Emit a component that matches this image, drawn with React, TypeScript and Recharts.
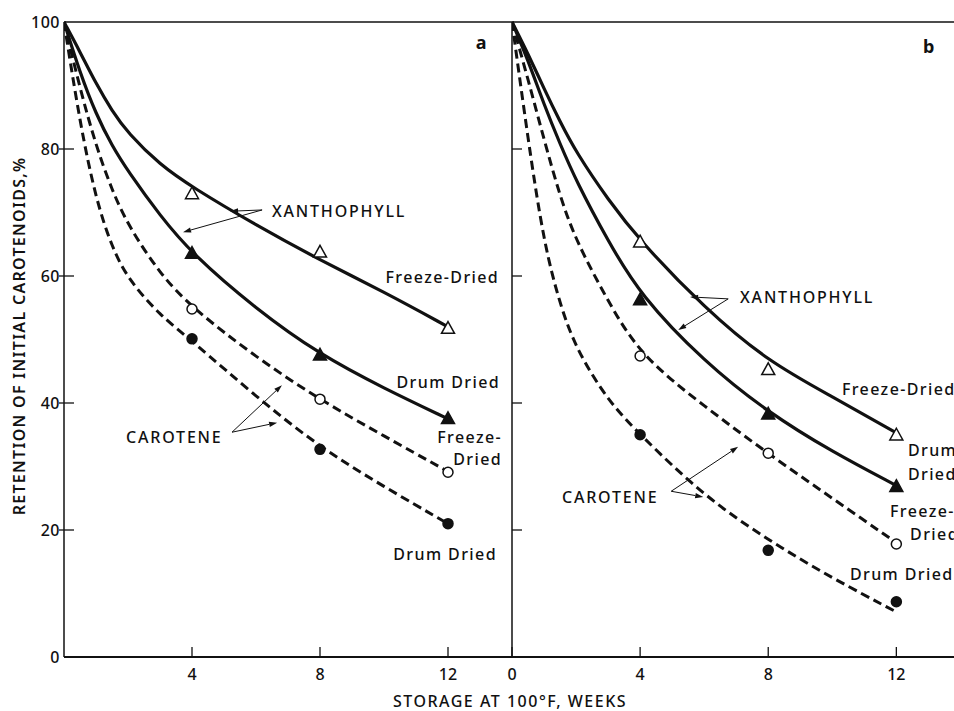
import { LineChart, Line, XAxis, YAxis, ReferenceLine, ReferenceDot } from 'recharts'

// weeks at 100°F
const curveWeeks = [0, 0.5, 1, 1.5, 2, 3, 4, 6, 8, 10, 12]
const pointWeeks = [4, 8, 12]

// panel a – fitted curves (% retention)
const xanFreezeCurveA = [100, 95.3, 90.3, 86, 82.5, 77.5, 74, 68, 62.5, 57.5, 52]
const xanDrumCurveA = [100, 92, 85.5, 80.5, 76.5, 69.5, 63.5, 54.8, 47.6, 42.3, 37.5]
const carFreezeCurveA = [100, 89.5, 80.5, 73.5, 68, 60.3, 55, 47.2, 40.5, 34.8, 29.2]
const carDrumCurveA = [100, 84, 72, 64.5, 59.5, 53.8, 49.8, 41, 33, 26.8, 21]
// panel a – measured points
const xanFreezePtsA = [73, 63.8, 51.8]
const xanDrumPtsA = [63.6, 47.6, 37.6]
const carFreezePtsA = [54.8, 40.6, 29.1]
const carDrumPtsA = [50.1, 32.7, 21]

// panel b – fitted curves
const xanFreezeCurveB = [100, 95, 89.5, 84.3, 79.5, 72, 65.5, 55, 46.5, 41, 35.3]
const xanDrumCurveB = [100, 94, 87, 80.8, 75, 65.5, 57, 46.5, 38.5, 32.3, 27]
const carFreezeCurveB = [100, 91, 81.5, 72.5, 65.5, 56, 47.5, 39.5, 32, 25, 18]
const carDrumCurveB = [100, 81.5, 65, 55.5, 48.5, 40.3, 35, 25.3, 18.4, 12.4, 7.1]
// panel b – measured points
const xanFreezePtsB = [65.4, 45.3, 35]
const xanDrumPtsB = [56.3, 38.3, 26.9]
const carFreezePtsB = [47.4, 32.1, 17.8]
const carDrumPtsB = [35, 16.8, 8.7]

const yTicks = [0, 20, 40, 60, 80, 100]
const xTicksA = [4, 8, 12]
const xTicksB = [0, 4, 8, 12]

// [text, week, value, anchor]
const notesA: [string, number, number, string][] = [
  ['XANTHOPHYLL', 6.5, 70.2, 'start'],
  ['CAROTENE', 1.94, 34.6, 'start'],
  ['Freeze-Dried', 13.6, 59.8, 'end'],
  ['Drum Dried', 13.63, 43.3, 'end'],
  ['Freeze-', 13.69, 34.6, 'end'],
  ['Dried', 13.69, 31.2, 'end'],
  ['Drum Dried', 13.53, 16.2, 'end'],
  ['a', 13.06, 96.7, 'middle'],
]
const notesB: [string, number, number, string][] = [
  ['XANTHOPHYLL', 7.12, 56.7, 'start'],
  ['CAROTENE', 1.56, 25.2, 'start'],
  ['Freeze-Dried', 10.3, 42.2, 'start'],
  ['Drum', 12.36, 32.5, 'start'],
  ['Dried', 12.36, 28.8, 'start'],
  ['Freeze-', 11.8, 23, 'start'],
  ['Dried', 12.43, 19.4, 'start'],
  ['Drum Dried', 10.55, 13.1, 'start'],
  ['b', 13.03, 96.2, 'middle'],
]

// arrows: [fromWeek, fromValue, toWeek, toValue]
const arrowsA = [
  [6.19, 70.4, 5.19, 70.2],
  [6.19, 70.4, 3.72, 66.9],
  [5.25, 35.4, 6.81, 42.8],
  [5.25, 35.4, 6.66, 36.9],
]
const arrowsB = [
  [6.75, 56.4, 5.56, 56.7],
  [6.75, 56.4, 5.19, 51.5],
  [4.97, 26.1, 7.06, 33.1],
  [4.97, 26.1, 5.97, 25.2],
]

const FONT = "'Noto Sans', 'DejaVu Sans', sans-serif"
const INK = '#111'
const W = 954
const H = 711

const toPts = (weeks: number[], vals: number[]) => weeks.map((w, i) => ({ week: w, value: vals[i] }))

const triangle = (filled: boolean) => (p: any) => {
  const { cx, cy } = p
  if (cx == null || cy == null) return <g />
  const s = 6.5
  return (
    <polygon
      points={`${cx},${cy - s} ${cx + s},${cy + s * 0.8} ${cx - s},${cy + s * 0.8}`}
      fill={filled ? INK : '#fff'}
      stroke={INK}
      strokeWidth={1.5}
    />
  )
}
const circle = (filled: boolean) => (p: any) => {
  const { cx, cy } = p
  if (cx == null || cy == null) return <g />
  return <circle cx={cx} cy={cy} r={5} fill={filled ? INK : '#fff'} stroke={INK} strokeWidth={1.5} />
}

const arrowShape = (p: any) => {
  const { x1, y1, x2, y2 } = p
  const a = Math.atan2(y2 - y1, x2 - x1)
  const L = 8
  const Wd = 2.6
  const bx = x2 - L * Math.cos(a)
  const by = y2 - L * Math.sin(a)
  const nx = -Math.sin(a) * Wd
  const ny = Math.cos(a) * Wd
  return (
    <g>
      <line x1={x1} y1={y1} x2={bx} y2={by} stroke={INK} strokeWidth={1} />
      <polygon points={`${x2},${y2} ${bx + nx},${by + ny} ${bx - nx},${by - ny}`} fill={INK} />
    </g>
  )
}

const textStyle = { fontFamily: FONT, fontSize: 16, fontWeight: 500, fill: INK }

const makeXTick = (showLabel: boolean) => (p: any) => {
  const { x, y, payload } = p
  return (
    <g>
      <line x1={x} x2={x} y1={y} y2={y - 10} stroke={INK} strokeWidth={1.3} />
      {showLabel && (
        <text x={x} y={y + 23} textAnchor="middle" {...textStyle}>
          {payload.value}
        </text>
      )}
    </g>
  )
}

const makeYTick = (showLabel: boolean) => (p: any) => {
  const { x, y, payload } = p
  if (payload.value === 0 && !showLabel) return <g />
  return (
    <g>
      {payload.value !== 0 && payload.value !== 100 && (
        <line x1={showLabel ? x - 5 : x} x2={x + 10} y1={y} y2={y} stroke={INK} strokeWidth={1.3} />
      )}
      {showLabel && (
        <text x={x - 4} y={y} dy="0.36em" textAnchor="end" letterSpacing={0.5} {...textStyle}>
          {payload.value}
        </text>
      )}
    </g>
  )
}

const renderNotes = (notes: [string, number, number, string][], prefix: string) =>
  notes.map(([text, week, value, anchor], i) => (
    <ReferenceDot
      key={`${prefix}-n${i}`}
      x={week}
      y={value}
      r={0}
      fill="none"
      stroke="none"
      ifOverflow="visible"
      label={(lp: any) => {
        const vb = lp.viewBox || {}
        const cx = (vb.x ?? 0) + (vb.width ?? 0) / 2
        const cy = (vb.y ?? 0) + (vb.height ?? 0) / 2
        const isLetter = text.length === 1
        return (
          <text
            x={cx}
            y={cy}
            dy="0.36em"
            textAnchor={anchor as any}
            letterSpacing={text === text.toUpperCase() && !isLetter ? 1.8 : 1.4}
            {...textStyle}
            fontSize={isLetter ? 18 : 16}
            fontWeight={isLetter ? 700 : 500}
          >
            {text}
          </text>
        )
      }}
    />
  ))

const renderArrows = (arrows: number[][], prefix: string) =>
  arrows.map(([fx, fy, tx, ty], i) => (
    <ReferenceLine
      key={`${prefix}-a${i}`}
      segment={[
        { x: fx, y: fy },
        { x: tx, y: ty },
      ]}
      ifOverflow="visible"
      shape={arrowShape}
    />
  ))

type Series = { curve: number[]; pts: number[]; dashed: boolean; marker: (p: any) => any }

const renderSeries = (series: Series[], prefix: string) =>
  series.flatMap((s, i) => [
    <Line
      key={`${prefix}-c${i}`}
      data={toPts(curveWeeks, s.curve)}
      dataKey="value"
      type="basis"
      stroke={INK}
      strokeWidth={s.dashed ? 3 : 3.2}
      strokeDasharray={s.dashed ? '9 5' : undefined}
      dot={false}
      activeDot={false}
      isAnimationActive={false}
    />,
    <Line
      key={`${prefix}-p${i}`}
      data={toPts(pointWeeks, s.pts)}
      dataKey="value"
      stroke="none"
      dot={s.marker}
      activeDot={false}
      isAnimationActive={false}
    />,
  ])

const seriesA: Series[] = [
  { curve: xanFreezeCurveA, pts: xanFreezePtsA, dashed: false, marker: triangle(false) },
  { curve: xanDrumCurveA, pts: xanDrumPtsA, dashed: false, marker: triangle(true) },
  { curve: carFreezeCurveA, pts: carFreezePtsA, dashed: true, marker: circle(false) },
  { curve: carDrumCurveA, pts: carDrumPtsA, dashed: true, marker: circle(true) },
]
const seriesB: Series[] = [
  { curve: xanFreezeCurveB, pts: xanFreezePtsB, dashed: false, marker: triangle(false) },
  { curve: xanDrumCurveB, pts: xanDrumPtsB, dashed: false, marker: triangle(true) },
  { curve: carFreezeCurveB, pts: carFreezePtsB, dashed: true, marker: circle(false) },
  { curve: carDrumCurveB, pts: carDrumPtsB, dashed: true, marker: circle(true) },
]

const layer: React.CSSProperties = { position: 'absolute', left: 0, top: 0 }

export default function App() {
  return (
    <div style={{ position: 'absolute', left: 0, top: 0, width: W, height: H, overflow: 'hidden', background: '#fff' }}>
      <div style={layer}>
        <LineChart width={W} height={H} margin={{ top: 22, right: W - 512, bottom: 24, left: 0 }}>
          <XAxis
            type="number"
            dataKey="week"
            domain={[0, 14]}
            ticks={xTicksA}
            allowDataOverflow
            height={30}
            tickSize={0}
            tickMargin={0}
            tick={makeXTick(true)}
            axisLine={{ stroke: INK, strokeWidth: 2 }}
            label={() => (
              <text x={510} y={701} dy="0.36em" textAnchor="middle" letterSpacing={1.5} {...textStyle}>
                STORAGE AT 100°F, WEEKS
              </text>
            )}
          />
          <YAxis
            type="number"
            domain={[0, 100]}
            ticks={yTicks}
            width={64}
            tickSize={0}
            tickMargin={0}
            tick={makeYTick(true)}
            axisLine={{ stroke: INK, strokeWidth: 1.5 }}
            label={() => (
              <text
                transform="translate(19,336) rotate(-90)"
                dominantBaseline="central"
                textAnchor="middle"
                letterSpacing={1.3}
                {...textStyle}
                fontWeight={600}
              >
                RETENTION OF INITIAL CAROTENOIDS,%
              </text>
            )}
          />
          <ReferenceLine y={100} stroke={INK} strokeWidth={1.5} />
          {renderSeries(seriesA, 'a')}
          {renderArrows(arrowsA, 'a')}
          {renderNotes(notesA, 'a')}
        </LineChart>
      </div>
      <div style={layer}>
        <LineChart width={W} height={H} margin={{ top: 22, right: 0, bottom: 24, left: 502 }}>
          <XAxis
            type="number"
            dataKey="week"
            domain={[0, 13.8]}
            ticks={xTicksB}
            allowDataOverflow
            height={30}
            tickSize={0}
            tickMargin={0}
            tick={makeXTick(true)}
            axisLine={{ stroke: INK, strokeWidth: 2 }}
          />
          <YAxis
            type="number"
            domain={[0, 100]}
            ticks={yTicks}
            width={10}
            tickSize={0}
            tickMargin={0}
            tick={makeYTick(false)}
            axisLine={{ stroke: INK, strokeWidth: 1.5 }}
          />
          <ReferenceLine y={100} stroke={INK} strokeWidth={1.5} />
          {renderSeries(seriesB, 'b')}
          {renderArrows(arrowsB, 'b')}
          {renderNotes(notesB, 'b')}
        </LineChart>
      </div>
    </div>
  )
}
